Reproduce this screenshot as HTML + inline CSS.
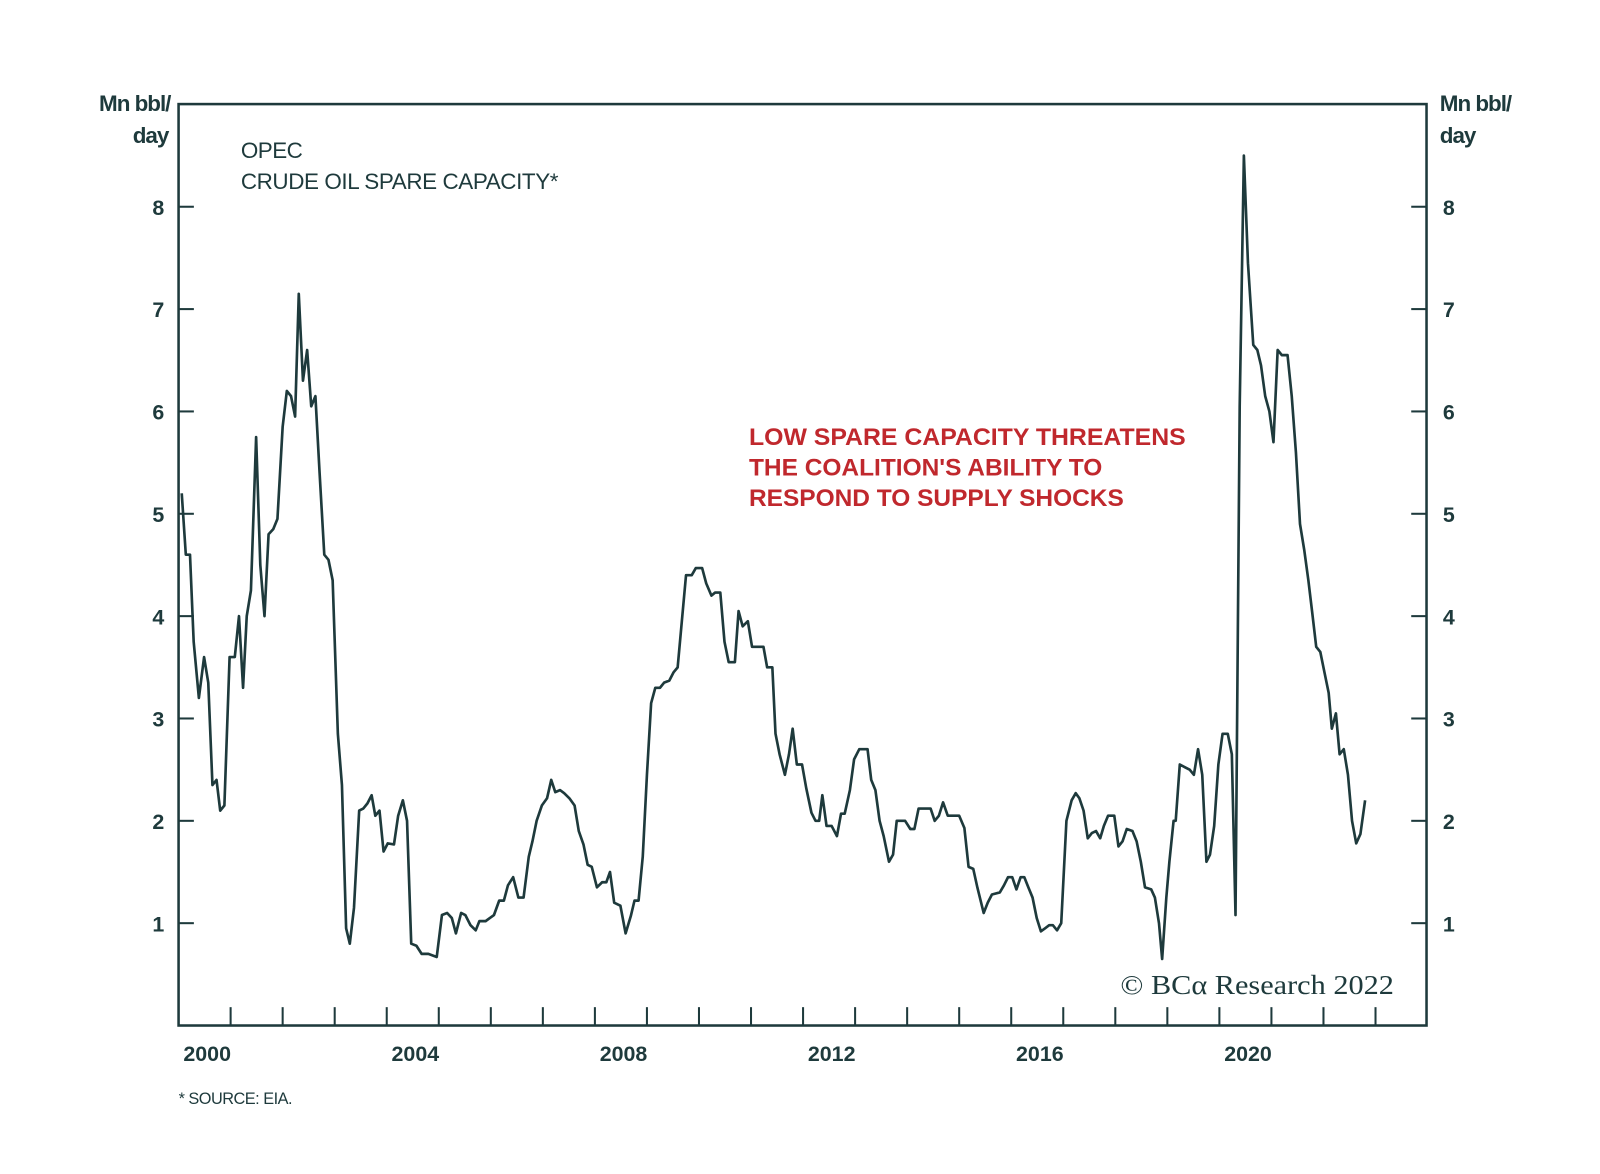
<!DOCTYPE html>
<html><head><meta charset="utf-8"><style>
html,body{margin:0;padding:0;background:#fff;}
svg{display:block;}
text{font-family:"Liberation Sans",sans-serif;fill:#1e3a3c;}
</style></head><body>
<svg id="chart" width="1600" height="1174" viewBox="0 0 1568 1150.5" xmlns="http://www.w3.org/2000/svg">
<g id="axes"></g>
<text x="167" y="109" text-anchor="end" font-size="22" font-weight="bold" letter-spacing="-1">Mn bbl/</text>
<text x="165" y="140" text-anchor="end" font-size="22" font-weight="bold" letter-spacing="-1">day</text>
<text x="1411" y="109" font-size="22" font-weight="bold" letter-spacing="-1">Mn bbl/</text>
<text x="1411" y="140" font-size="22" font-weight="bold" letter-spacing="-1">day</text>
<text x="236" y="155" font-size="22" letter-spacing="-0.5">OPEC</text>
<text x="236" y="185" font-size="22" letter-spacing="-0.4">CRUDE OIL SPARE CAPACITY*</text>
<g font-size="24" font-weight="bold">
<text x="734" y="436" style="fill:#c0282d" textLength="428" lengthAdjust="spacingAndGlyphs">LOW SPARE CAPACITY THREATENS</text>
<text x="734" y="466" style="fill:#c0282d">THE COALITION'S ABILITY TO</text>
<text x="734" y="496" style="fill:#c0282d">RESPOND TO SUPPLY SHOCKS</text>
</g>
<text x="1366" y="974" text-anchor="end" font-size="27" style="font-family:'Liberation Serif',serif" textLength="268" lengthAdjust="spacingAndGlyphs">© BCα Research 2022</text>
<text x="175" y="1082" font-size="16" letter-spacing="-0.5">* SOURCE: EIA.</text>
</svg>
<script>
const yearX=[2000.06,2000.14,2000.22,2000.29,2000.39,2000.49,2000.57,2000.65,2000.73,2000.80,2000.88,2000.98,2001.08,2001.16,2001.24,2001.31,2001.39,2001.49,2001.57,2001.65,2001.73,2001.82,2001.90,2002.00,2002.08,2002.16,2002.24,2002.31,2002.39,2002.47,2002.55,2002.63,2002.71,2002.80,2002.88,2002.96,2003.06,2003.14,2003.22,2003.29,2003.37,2003.47,2003.55,2003.63,2003.71,2003.78,2003.86,2003.94,2004.02,2004.14,2004.22,2004.31,2004.39,2004.47,2004.57,2004.67,2004.80,2004.96,2005.06,2005.16,2005.25,2005.33,2005.43,2005.51,2005.61,2005.71,2005.78,2005.90,2005.98,2006.06,2006.16,2006.25,2006.33,2006.43,2006.53,2006.63,2006.73,2006.80,2006.88,2006.98,2007.08,2007.16,2007.24,2007.33,2007.41,2007.51,2007.61,2007.69,2007.78,2007.86,2007.94,2008.04,2008.14,2008.22,2008.29,2008.37,2008.49,2008.59,2008.69,2008.76,2008.84,2008.92,2009.00,2009.08,2009.16,2009.25,2009.33,2009.43,2009.51,2009.59,2009.67,2009.75,2009.86,2009.94,2010.06,2010.14,2010.24,2010.31,2010.41,2010.49,2010.57,2010.69,2010.76,2010.84,2010.94,2011.02,2011.10,2011.24,2011.31,2011.41,2011.47,2011.55,2011.65,2011.73,2011.80,2011.88,2011.98,2012.06,2012.16,2012.24,2012.31,2012.37,2012.45,2012.55,2012.65,2012.73,2012.80,2012.90,2012.98,2013.08,2013.24,2013.31,2013.39,2013.47,2013.55,2013.65,2013.73,2013.80,2013.96,2014.06,2014.14,2014.22,2014.45,2014.53,2014.61,2014.69,2014.78,2014.86,2015.00,2015.10,2015.18,2015.27,2015.35,2015.47,2015.55,2015.63,2015.78,2015.86,2015.94,2016.02,2016.10,2016.18,2016.25,2016.33,2016.41,2016.49,2016.57,2016.65,2016.73,2016.80,2016.88,2016.96,2017.06,2017.16,2017.24,2017.31,2017.39,2017.47,2017.55,2017.63,2017.71,2017.78,2017.86,2017.98,2018.06,2018.14,2018.22,2018.33,2018.41,2018.49,2018.57,2018.69,2018.76,2018.84,2018.90,2018.98,2019.04,2019.12,2019.16,2019.24,2019.35,2019.43,2019.51,2019.59,2019.67,2019.75,2019.82,2019.90,2019.98,2020.06,2020.16,2020.24,2020.31,2020.39,2020.47,2020.55,2020.65,2020.73,2020.80,2020.88,2020.96,2021.04,2021.12,2021.20,2021.31,2021.39,2021.47,2021.55,2021.63,2021.71,2021.78,2021.86,2021.94,2022.02,2022.10,2022.16,2022.24,2022.31,2022.39,2022.47,2022.55,2022.63,2022.71,2022.80];
const values=[5.2,4.6,4.6,3.75,3.2,3.6,3.35,2.35,2.4,2.1,2.15,3.6,3.6,4.0,3.3,4.0,4.25,5.75,4.5,4.0,4.8,4.85,4.95,5.85,6.2,6.15,5.95,7.15,6.3,6.6,6.05,6.15,5.4,4.6,4.55,4.35,2.85,2.35,0.95,0.8,1.15,2.1,2.12,2.17,2.25,2.05,2.1,1.7,1.78,1.77,2.05,2.2,2.0,0.8,0.78,0.7,0.7,0.67,1.08,1.1,1.05,0.9,1.1,1.08,0.98,0.93,1.02,1.02,1.05,1.08,1.22,1.22,1.37,1.45,1.25,1.25,1.65,1.8,2.0,2.15,2.22,2.4,2.28,2.3,2.27,2.22,2.15,1.9,1.77,1.57,1.55,1.35,1.4,1.4,1.5,1.2,1.17,0.9,1.07,1.22,1.22,1.65,2.45,3.15,3.3,3.3,3.35,3.37,3.45,3.5,3.95,4.4,4.4,4.47,4.47,4.32,4.2,4.23,4.23,3.75,3.55,3.55,4.05,3.9,3.95,3.7,3.7,3.7,3.5,3.5,2.85,2.65,2.45,2.65,2.9,2.55,2.55,2.32,2.08,2.0,2.0,2.25,1.95,1.95,1.85,2.07,2.07,2.3,2.6,2.7,2.7,2.4,2.3,2.0,1.85,1.6,1.67,2.0,2.0,1.92,1.92,2.12,2.12,2.0,2.05,2.18,2.05,2.05,2.05,1.93,1.55,1.53,1.35,1.1,1.2,1.28,1.3,1.37,1.45,1.45,1.33,1.45,1.45,1.35,1.25,1.05,0.92,0.95,0.98,0.98,0.93,1.0,2.0,2.2,2.27,2.22,2.1,1.83,1.88,1.9,1.83,1.95,2.05,2.05,1.75,1.8,1.92,1.9,1.8,1.6,1.35,1.33,1.25,1.0,0.65,1.25,1.6,2.0,2.0,2.55,2.52,2.5,2.45,2.7,2.45,1.6,1.67,1.95,2.55,2.85,2.85,2.65,1.08,6.05,8.5,7.45,6.65,6.6,6.45,6.15,6.0,5.7,6.6,6.55,6.55,6.15,5.6,4.9,4.65,4.35,4.05,3.7,3.65,3.45,3.25,2.9,3.05,2.65,2.7,2.45,2.0,1.78,1.87,2.2];
const yTicks=[1,2,3,4,5,6,7,8];
const xLabels=[2000,2004,2008,2012,2016,2020];
const firstTickYear=2001, lastTickYear=2023;

const L=175,R=1398,T=102,B=1005;
const xs=y=>L+(y-2000)*51;
const ys=v=>B-v*100.3;
const NS='http://www.w3.org/2000/svg';
const ax=document.getElementById('axes');
function mk(tag,attrs,parent){const e=document.createElementNS(NS,tag);for(const k in attrs)e.setAttribute(k,attrs[k]);(parent||ax).appendChild(e);return e;}
const col='#1e3a3c';
const frame=mk('rect',{x:L,y:T,width:R-L,height:B-T,fill:'none',stroke:col,'stroke-width':2.5});


yTicks.forEach(v=>{
  const y=ys(v);
  const t1=mk('line',{x1:L,x2:L+15,y1:y,y2:y,stroke:col,'stroke-width':2});
  
  
  const t2=mk('line',{x1:R-15,x2:R,y1:y,y2:y,stroke:col,'stroke-width':2});
  
  
  const a=mk('text',{x:161,y:y+8,'text-anchor':'end','font-size':21,'font-weight':'bold'});a.textContent=v;
  
  
  const b=mk('text',{x:1414,y:y+8,'font-size':21,'font-weight':'bold'});b.textContent=v;
  
  
});
for(let yr=firstTickYear;yr<=lastTickYear;yr++){
  const x=xs(yr);
  const t=mk('line',{x1:x,x2:x,y1:B,y2:B-18,stroke:col,'stroke-width':2});
  
  
}
xLabels.forEach(yr=>{
  const t=mk('text',{x:xs(yr+0.55),y:B+35,'text-anchor':'middle','font-size':21,'font-weight':'bold'});
  t.textContent=yr;
  
  
});
const pts=yearX.map((yr,i)=>xs(yr).toFixed(1)+','+ys(values[i]).toFixed(1)).join(' ');
const line=mk('polyline',{points:pts,fill:'none',stroke:col,'stroke-width':2.6,'stroke-linejoin':'round'});


</script>
</body></html>
